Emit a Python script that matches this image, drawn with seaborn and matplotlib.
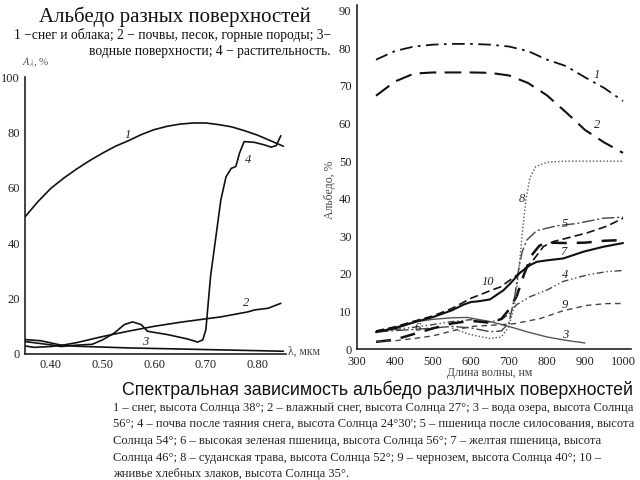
import matplotlib
matplotlib.use("Agg")
import matplotlib.pyplot as plt
from matplotlib.ticker import FormatStrFormatter, MultipleLocator
import seaborn as sns

# ---- левый график: длина волны, мкм / альбедо, %
l1_x = [0.35, 0.375, 0.40, 0.425, 0.45, 0.475, 0.50, 0.525, 0.55, 0.575, 0.60, 0.625, 0.65, 0.675,
        0.70, 0.725, 0.75, 0.775, 0.80, 0.825, 0.85]
l1_y = [49.5, 55, 59.8, 63.5, 66.8, 69.8, 72.5, 75, 77, 79.2, 81, 82.2, 83, 83.4,
        83.4, 82.8, 82, 80.6, 79, 77, 75]

l2_x = [0.35, 0.368, 0.40, 0.426, 0.45, 0.50, 0.549, 0.60, 0.652, 0.70, 0.729, 0.755, 0.781, 0.794, 0.82, 0.845]
l2_y = [2.9, 2.4, 2.7, 3.3, 4.1, 6.3, 8.2, 10.0, 11.5, 12.7, 13.4, 14.3, 15.2, 15.9, 16.5, 18.3]

l3_x = [0.35, 0.38, 0.40, 0.42, 0.45, 0.50, 0.55, 0.60, 0.70, 0.80, 0.85]
l3_y = [5.2, 4.8, 4.0, 3.2, 2.8, 2.5, 2.2, 2.0, 1.6, 1.2, 1.0]

l4_x = [0.35, 0.40, 0.42, 0.45, 0.48, 0.50, 0.523, 0.542, 0.558, 0.575, 0.587, 0.626, 0.665, 0.684,
        0.694, 0.70, 0.709, 0.729, 0.739, 0.749, 0.758, 0.765, 0.774, 0.794, 0.813, 0.826, 0.836, 0.845]
l4_y = [4.5, 3.3, 2.7, 3.2, 3.5, 5.1, 7.6, 10.6, 11.6, 10.6, 8.2, 7.0, 5.4, 4.3,
        5.1, 8.8, 28, 55.7, 64, 67, 67.7, 72.5, 76.7, 76.4, 75.5, 74.7, 75.2, 78.8]

left_labels = ["1", "2", "3", "4"]
left_label_x = [0.549, 0.778, 0.582, 0.781]
left_label_y = [79, 18.5, 4.3, 70]

# ---- правый график: длина волны, нм / альбедо, %
r1_x = [350, 400, 450, 500, 550, 600, 650, 700, 750, 800, 850, 900, 950, 1000]
r1_y = [77, 79.3, 80.5, 81, 81.2, 81.2, 81, 80.5, 79.3, 77, 75.3, 72.3, 69.5, 66]

r2_x = [350, 400, 450, 500, 550, 600, 650, 700, 750, 800, 850, 900, 950, 1000]
r2_y = [67.4, 71.2, 73.3, 73.6, 73.6, 73.6, 73.5, 72.8, 70.8, 67.5, 63, 58.3, 55, 52.2]

r3_x = [350, 400, 450, 500, 550, 590, 650, 700, 750, 800, 850, 900]
r3_y = [4.5, 5.8, 7.2, 7.9, 8.3, 8.4, 7.3, 6.0, 4.5, 3.2, 2.3, 1.6]

r4_x = [350, 400, 450, 500, 550, 600, 650, 680, 700, 720, 755, 800, 843, 905, 958, 1000]
r4_y = [4.8, 5.2, 5.8, 6.5, 7.3, 7.8, 7.2, 7.8, 9.3, 11.8, 13.9, 15.7, 18, 19.7, 20.6, 20.9]

r5_x = [350, 400, 450, 500, 550, 600, 650, 680, 700, 715, 725, 735, 747, 773, 826, 878, 948, 1000]
r5_y = [4.5, 4.9, 5.2, 5.6, 6.0, 5.6, 4.6, 4.8, 7.0, 14, 21, 26, 29, 31.5, 32.8, 33.4, 34.8, 35.1]

r6_x = [350, 400, 450, 500, 550, 600, 650, 680, 700, 720, 740, 760, 780, 800, 850, 900, 950, 1000]
r6_y = [1.9, 2.5, 4.0, 5.5, 6.8, 7.5, 7.0, 8.0, 10.5, 14, 20, 25, 27.5, 28.3, 28.2, 28.3, 28.8, 29]

r7_x = [350, 400, 450, 500, 550, 580, 600, 620, 650, 685, 703, 729, 755, 773, 800, 843, 896, 948, 1000]
r7_y = [4.5, 5.5, 7.1, 8.5, 10.3, 11.8, 12.5, 12.7, 13.2, 15.6, 17.4, 20.3, 22.3, 23.2, 23.6, 24.1, 25.9, 27.2, 28.2]

r8_x = [550, 600, 650, 680, 700, 715, 725, 735, 745, 755, 770, 800, 850, 900, 1000]
r8_y = [5.5, 3.8, 2.8, 3.2, 6, 12, 20, 31, 40, 45.5, 48.5, 49.7, 50, 50, 50]

r9_x = [350, 400, 450, 500, 550, 600, 650, 712, 782, 843, 905, 958, 1000]
r9_y = [2.0, 2.2, 2.8, 3.5, 4.8, 6.0, 6.3, 6.7, 8.1, 10.2, 11.6, 12.1, 12.1]

r10_x = [350, 400, 450, 500, 550, 600, 650, 677, 712, 738, 764, 791, 817, 852, 905, 958, 1000]
r10_y = [4.8, 5.9, 7.4, 8.8, 10.8, 13.5, 15.5, 16.5, 19, 21, 23.7, 27.3, 28.6, 29.5, 30.9, 32.7, 34.8]

right_labels = ["1", "2", "3", "4", "5", "6", "7", "8", "9", "10"]
right_label_x = [931, 931, 847, 847, 847, 460, 842, 733, 847, 645]
right_label_y = [73, 59.5, 3.8, 19.7, 33.4, 5.6, 25.9, 40, 11.7, 17.9]

caption = [
    "1 – снег, высота Солнца 38°; 2 – влажный снег, высота Солнца 27°; 3 – вода озера, высота Солнца",
    "56°; 4 – почва после таяния снега, высота Солнца 24°30'; 5 – пшеница после силосования, высота",
    "Солнца 54°; 6 – высокая зеленая пшеница, высота Солнца 56°; 7 – желтая пшеница, высота",
    "Солнца 46°; 8 – суданская трава, высота Солнца 52°; 9 – чернозем, высота Солнца 40°; 10 –",
    "жнивье хлебных злаков, высота Солнца 35°.",
]

sns.set_style("white")
plt.rcParams['font.family'] = ['Liberation Serif', 'DejaVu Serif']
plt.rcParams['mathtext.fontset'] = 'stix'

W, H = 640, 480
fig = plt.figure(figsize=(6.4, 4.8), dpi=100)
ink = "#222222"


def fx(x):
    return x / W


def fy(y):
    return 1 - y / H


# ---------- левый
ax1 = fig.add_axes([fx(25), fy(354), 261 / W, 277 / H])
for xs, ys in [(l1_x, l1_y), (l2_x, l2_y), (l3_x, l3_y), (l4_x, l4_y)]:
    sns.lineplot(x=xs, y=ys, ax=ax1, color="#111111", linewidth=1.2, errorbar=None)
ax1.set_xlim(0.35, 0.855)
ax1.set_ylim(0, 100)
ax1.xaxis.set_major_locator(MultipleLocator(0.1))
ax1.xaxis.set_minor_locator(MultipleLocator(0.05))
ax1.xaxis.set_major_formatter(FormatStrFormatter('%.2f'))
ax1.yaxis.set_major_locator(MultipleLocator(20))
ax1.yaxis.set_minor_locator(MultipleLocator(10))
ax1.set_xticks([0.4, 0.5, 0.6, 0.7, 0.8])
ax1.tick_params(which='both', direction='in', length=4, width=1, colors=ink, labelsize=9)
for lab, x, y in zip(left_labels, left_label_x, left_label_y):
    ax1.text(x, y, lab, fontsize=9, style='italic', color=ink, ha='center', va='center')

# ---------- правый
ax2 = fig.add_axes([fx(357), fy(349), 273.6 / W, 343.8 / H])
styles = [
    (r1_x, r1_y, "#111111", 1.3, (0, (7, 3, 1.5, 3))),
    (r2_x, r2_y, "#111111", 1.5, (0, (8, 4))),
    (r3_x, r3_y, "#555555", 1.0, "-"),
    (r4_x, r4_y, "#444444", 1.0, (0, (5, 2, 1, 2, 1, 2))),
    (r5_x, r5_y, "#444444", 1.0, (0, (9, 2, 1.5, 2))),
    (r6_x, r6_y, "#111111", 1.8, (0, (6, 4))),
    (r7_x, r7_y, "#111111", 1.5, "-"),
    (r8_x, r8_y, "#555555", 1.0, (0, (1, 1.5))),
    (r9_x, r9_y, "#444444", 1.0, (0, (4, 3))),
    (r10_x, r10_y, "#111111", 1.2, (0, (5, 2.5))),
]
for xs, ys, c, lw, ls in styles:
    sns.lineplot(x=xs, y=ys, ax=ax2, color=c, linewidth=lw, linestyle=ls, errorbar=None)
ax2.set_xlim(300, 1020)
ax2.set_ylim(0, 91.5)
ax2.set_xticks(range(300, 1001, 100))
ax2.set_yticks(range(0, 91, 10))
ax2.tick_params(axis='x', direction='in', length=4, width=1, colors=ink, labelsize=9, pad=5)
ax2.tick_params(axis='y', direction='inout', length=6, width=1, colors=ink, labelsize=9, pad=1)
for lab, x, y in zip(right_labels, right_label_x, right_label_y):
    ax2.text(x, y, lab, fontsize=9, style='italic', color=ink, ha='center', va='center')

for ax in (ax1, ax2):
    sns.despine(ax=ax)
    for s in ("left", "bottom"):
        ax.spines[s].set_linewidth(1.2)
        ax.spines[s].set_color(ink)

# ---------- подписи
fig.text(fx(175), fy(22), "Альбедо разных поверхностей", fontsize=15, ha='center', va='baseline', color="#111111")
fig.text(fx(331), fy(39), "1 −снег и облака; 2 − почвы, песок, горные породы; 3−",
         fontsize=9.8, ha='right', va='baseline', color="#111111")
fig.text(fx(331), fy(55), "водные поверхности; 4 − растительность.",
         fontsize=9.8, ha='right', va='baseline', color="#111111")
fig.text(fx(22), fy(62), r"$A_\lambda$, %", fontsize=8, ha='left', va='center', color="#555555")
fig.text(fx(288), fy(352), "λ, мкм", fontsize=8.5, ha='left', va='center', color="#444444")
fig.text(fx(490), fy(373), "Длина волны, нм", fontsize=8.5, ha='center', va='center', color="#444444")
fig.text(fx(330), fy(190), "Альбедо, %", fontsize=8.5, rotation=90, ha='center', va='center', color="#444444")

fig.text(fx(378), fy(390), "Спектральная зависимость альбедо различных поверхностей",
         fontsize=12.8, ha='center', va='center', family=['Liberation Sans', 'DejaVu Sans'], color="#111111")
for i, line in enumerate(caption):
    fig.text(fx(113), fy(408 + 16.5 * i), line, fontsize=9, ha='left', va='center', color="#222222")

fig.savefig("out.png", dpi=100, facecolor="white")
